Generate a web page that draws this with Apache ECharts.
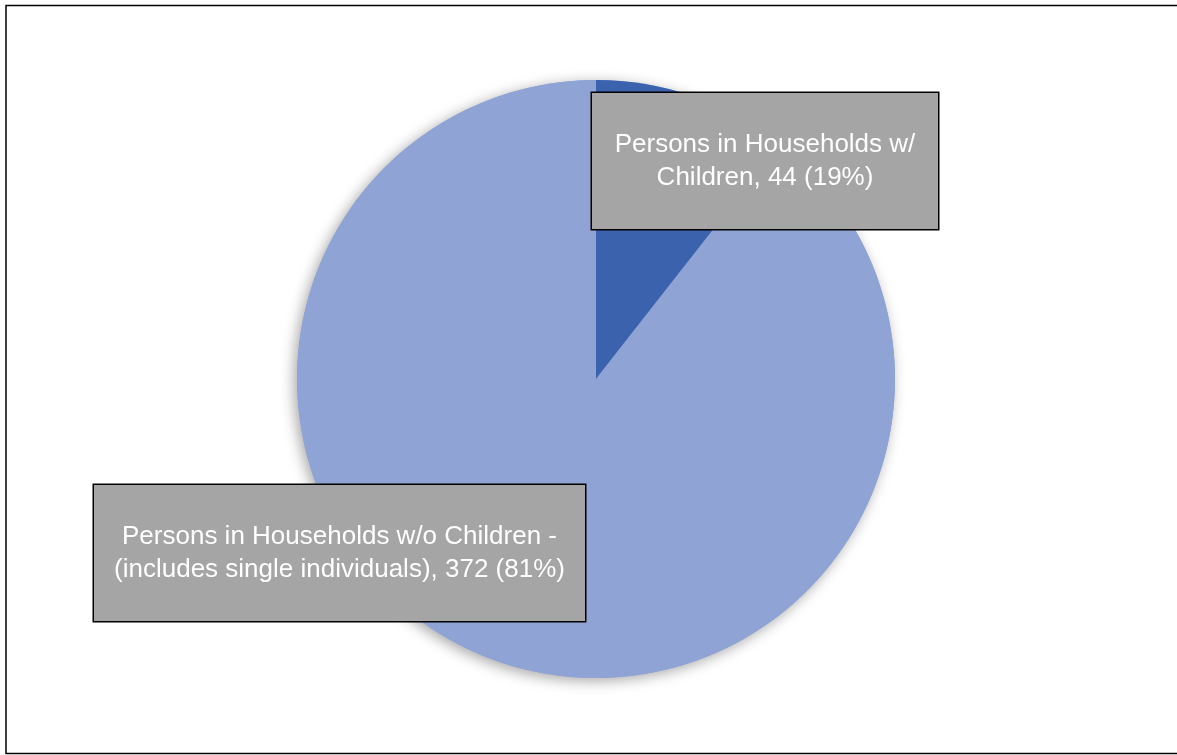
<!DOCTYPE html>
<html>
<head>
<meta charset="utf-8">
<script src="https://cdn.jsdelivr.net/npm/echarts@6/dist/echarts.min.js"></script>
<style>
  html, body { margin: 0; padding: 0; background: #fff; }
  #chart { width: 1177px; height: 755px; }
</style>
</head>
<body>
<div id="chart"></div>
<script>
// data
const categories = ['Persons in Households w/ Children', 'Persons in Households w/o Children - (includes single individuals)']
const values = [44, 372]
const shownPct = ['19%', '81%']
const labelText = [
  'Persons in Households w/\nChildren, 44 (19%)',
  'Persons in Households w/o Children -\n(includes single individuals), 372 (81%)'
]

const sliceColors = ['#3a62ad', '#8fa3d4']
const labelBoxes = [
  { x: 765, y: 161, width: 346 },
  { x: 339.5, y: 553, width: 491 }
]

const myChart = echarts.init(document.getElementById('chart'))

const pieData = categories.map((name, i) => ({
  name: name,
  value: values[i],
  itemStyle: { color: sliceColors[i] },
  label: {
    formatter: labelText[i],
    width: labelBoxes[i].width
  }
}))

const total = values.reduce((a, b) => a + b, 0)

myChart.setOption({
  animation: false,
  graphic: [
    {
      type: 'rect',
      shape: { x: 6, y: 5.5, width: 1200, height: 748 },
      style: { fill: 'none', stroke: '#000', lineWidth: 1.5 },
      z: 100
    }
  ],
  series: [
    {
      // shadow layer under the pie
      type: 'pie',
      silent: true,
      center: [596, 379],
      radius: 299,
      z: 1,
      label: { show: false },
      labelLine: { show: false },
      data: [{ value: total }],
      itemStyle: {
        color: '#8fa3d4',
        shadowBlur: 14,
        shadowColor: 'rgba(0,0,0,0.35)',
        shadowOffsetX: -3,
        shadowOffsetY: 3
      }
    },
    {
      type: 'pie',
      center: [596, 379],
      radius: 299,
      startAngle: 90,
      clockwise: true,
      z: 2,
      data: pieData,
      labelLine: { show: false },
      label: {
        show: true,
        color: '#fff',
        fontFamily: 'Liberation Sans, Arial, sans-serif',
        fontSize: 26,
        lineHeight: 33,
        align: 'center',
        backgroundColor: '#a5a5a5',
        borderColor: '#000',
        borderWidth: 1.5,
        padding: [37, 0, 33, 0]
      },
      labelLayout: function (params) {
        const b = labelBoxes[params.dataIndex]
        return { x: b.x, y: b.y, align: 'center', verticalAlign: 'middle' }
      }
    }
  ]
})
</script>
</body>
</html>
